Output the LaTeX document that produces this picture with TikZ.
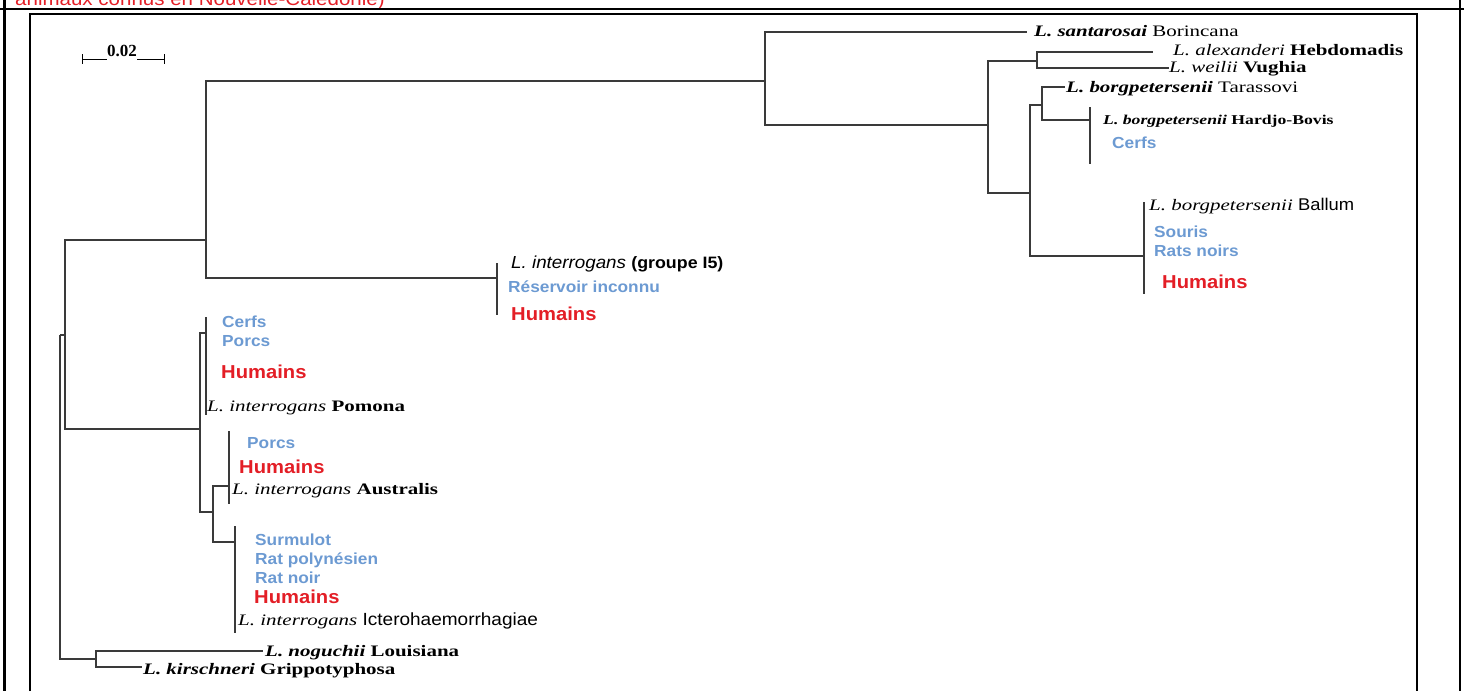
\documentclass[tikz,border=0pt]{standalone}
\usepackage{fontspec}
\setmainfont{Liberation Serif}[FakeStretch=1.31]
\newfontfamily\arial{Liberation Sans}[FakeStretch=1.08]
\newfontfamily\serifdroit{Liberation Serif}
\usepackage{xcolor}
\definecolor{hote}{HTML}{6C9AD2}
\definecolor{homme}{HTML}{E31E26}
\definecolor{branche}{HTML}{3A3A3A}
\newcommand{\taille}[1]{\fontsize{#1}{#1}\selectfont}

\begin{document}
\begin{tikzpicture}[x=1pt,y=-1pt,
    branche/.style={draw=branche,line width=1.3pt},
    lbl/.style={anchor=base west,inner sep=0pt},
    souche/.style={lbl,font=\taille{16}},
    hote/.style={lbl,text=hote,font=\arial\bfseries\taille{16}},
    humain/.style={lbl,text=homme,font=\arial\bfseries\taille{18.7}}]
            \clip (0,0) rectangle (1464,691);
            \node[lbl,text=homme,font=\arial\taille{19}] (titre) at (15,5) {animaux connus en Nouvelle-Calédonie)};
            \draw[line width=2.5pt] (0,9) -- (1464,9);
            \draw[line width=2.5pt] (4.5,0) -- (4.5,691);
            \draw[line width=2.5pt] (1460,0) -- (1460,691);
            \draw[line width=2pt] (29.5,691) -- (29.5,14) -- (1417,14) -- (1417,691);
            % echelle
            \node[anchor=base,inner sep=0pt,font=\serifdroit\bfseries\taille{17}] (echelle) at (122,56) {0.02};
            \coordinate (eg) at (82,59);
            \coordinate (ed) at (164,59);
            \draw[thick] (eg) -- (echelle.west |- eg) (echelle.east |- ed) -- (ed);
            \draw[thick] ([yshift=5pt]eg) -- ([yshift=-5pt]eg) ([yshift=5pt]ed) -- ([yshift=-5pt]ed);
            % noeuds
            \coordinate (r) at (60,335);
            \coordinate (n2) at (65,335);
            \coordinate (n5) at (206,240);
            \coordinate (n6) at (765,81);
            \coordinate (n7) at (988,125);
            \coordinate (n8) at (1037,61);
            \coordinate (n9) at (1030,193);
            \coordinate (n10) at (1042,105);
            \coordinate (n3) at (200,429);
            \coordinate (n4) at (213,512);
            \coordinate (ng) at (96,659);
            \coordinate (hardjo) at (1090,120);
            \coordinate (ballum) at (1144,256);
            \coordinate (i5) at (497,278);
            \coordinate (pomona) at (206,333);
            \coordinate (austr) at (229,486);
            \coordinate (ictero) at (235,542);
            \coordinate (lsanta) at (1027,32);
            \coordinate (lalex) at (1153,52);
            \coordinate (lweil) at (1169,68);
            \coordinate (ltara) at (1065,87);
            \coordinate (lnog) at (263,651);
            \coordinate (lkir) at (142,667);
            \draw[branche] (r) |- (n2) (r) |- (ng);
            \draw[branche] (n2) |- (n5) (n2) |- (n3);
            \draw[branche] (n5) |- (n6) (n5) |- (i5);
            \draw[branche] (n6) |- (lsanta) (n6) |- (n7);
            \draw[branche] (n7) |- (n8) (n7) |- (n9);
            \draw[branche] (n8) |- (lalex) (n8) |- (lweil);
            \draw[branche] (n9) |- (n10) (n9) |- (ballum);
            \draw[branche] (n10) |- (ltara) (n10) |- (hardjo);
            \draw[branche] (n3) |- (pomona) (n3) |- (n4);
            \draw[branche] (n4) |- (austr) (n4) |- (ictero);
            \draw[branche] (ng) |- (lnog) (ng) |- (lkir);
            \draw[branche] (hardjo |- 0,107) -- (hardjo |- 0,164);
            \draw[branche] (ballum |- 0,202) -- (ballum |- 0,294);
            \draw[branche] (i5 |- 0,263) -- (i5 |- 0,315);
            \draw[branche] (pomona |- 0,317) -- (pomona |- 0,415);
            \draw[branche] (austr |- 0,431) -- (austr |- 0,504);
            \draw[branche] (ictero |- 0,526) -- (ictero |- 0,633);
            % etiquettes
            \node[souche] (santa) at (1034,36) {\textbf{\textit{L. santarosai}} Borincana};
            \node[souche] (alex) at (1173,55) {\textit{L. alexanderi} \textbf{Hebdomadis}};
            \node[souche] (weil) at (1169,72.7) {\textit{L. weilii} \textbf{Vughia}};
            \node[souche] (tara) at (1066,92.7) {\textbf{\textit{L. borgpetersenii}} Tarassovi};
            \node[souche,font=\taille{13.5}] (hard) at (1103,124) {\textbf{\textit{L. borgpetersenii} Hardjo-Bovis}};
            \node[hote] (cerfh) at (1112,148) {Cerfs};
            \node[souche] (ball) at (1149,210.7) {\textit{L. borgpetersenii} {\arial\taille{17}Ballum}};
            \node[hote] (sour) at (1154,237.7) {Souris};
            \node[hote] (ratsb) at (1154,256.7) {Rats noirs};
            \node[humain] (humb) at (1162,288.3) {Humains};
            \node[lbl,font=\arial\taille{17.4}] (i5nom) at (511,268.3) {\textit{L. interrogans} {\bfseries\taille{16.5}(groupe I5)}};
            \node[hote] (reserv) at (508,292.3) {Réservoir inconnu};
            \node[humain] (humi) at (511,320) {Humains};
            \node[hote] (cerfp) at (222,327.3) {Cerfs};
            \node[hote] (porp) at (222,346) {Porcs};
            \node[humain] (hump) at (221,378.3) {Humains};
            \node[souche] (pomo) at (207,411) {\textit{L. interrogans} \textbf{Pomona}};
            \node[hote] (pora) at (247,448.3) {Porcs};
            \node[humain] (huma) at (239,473.3) {Humains};
            \node[souche] (aust) at (232,494) {\textit{L. interrogans} \textbf{Australis}};
            \node[hote] (surm) at (255,545) {Surmulot};
            \node[hote] (ratp) at (255,564) {Rat polynésien};
            \node[hote] (ratn) at (255,583.3) {Rat noir};
            \node[humain] (humc) at (254,603.3) {Humains};
            \node[souche] (icte) at (238,625) {\textit{L. interrogans} {\arial\taille{17.6}Icterohaemorrhagiae}};
            \node[souche] (nogu) at (265,656.7) {\textbf{\textit{L. noguchii} Louisiana}};
            \node[souche] (kirs) at (143,674) {\textbf{\textit{L. kirschneri} Grippotyphosa}};
\end{tikzpicture}
\end{document}
